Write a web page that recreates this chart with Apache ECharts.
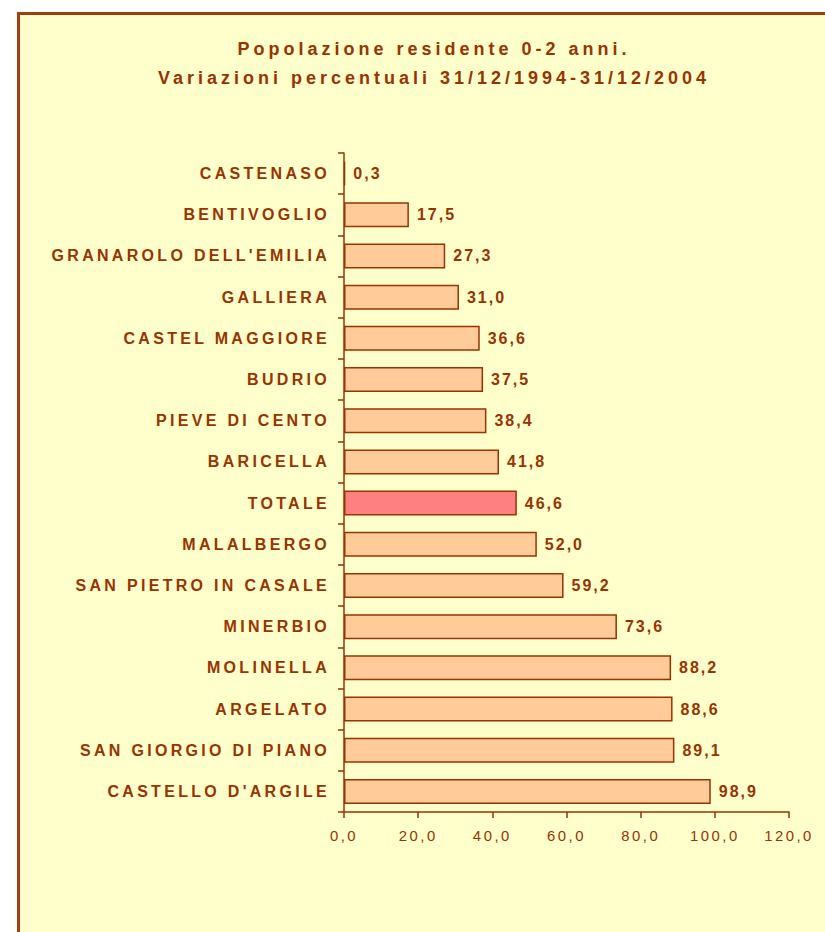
<!DOCTYPE html>
<html>
<head>
<meta charset="UTF-8">
<title>Popolazione residente 0-2 anni</title>
<script type="text/javascript" src="https://cdn.jsdelivr.net/npm/echarts@6/dist/echarts.min.js"></script>
<style>
    html, body { margin: 0; padding: 0; background: #fff; }
    /* spaziatura delle lettere come nel grafico originale */
    #main text { letter-spacing: 2px; }
    #main text[style*="18px"] { letter-spacing: 4px; }
    #main text[style*="Liberation"] { letter-spacing: 3.3px; }
    #main text[style*="14.9px"] { letter-spacing: 2.5px; }
</style>
</head>
<body>
    <div id="main" style="width: 825px;height:932px;"></div>
    <script type="text/javascript">
    var comuni = ['CASTENASO', 'BENTIVOGLIO', "GRANAROLO DELL'EMILIA", 'GALLIERA', 'CASTEL MAGGIORE',
        'BUDRIO', 'PIEVE DI CENTO', 'BARICELLA', 'TOTALE', 'MALALBERGO', 'SAN PIETRO IN CASALE',
        'MINERBIO', 'MOLINELLA', 'ARGELATO', 'SAN GIORGIO DI PIANO', "CASTELLO D'ARGILE"];
    var variazioni = [0.3, 17.5, 27.3, 31.0, 36.6, 37.5, 38.4, 41.8, 46.6, 52.0, 59.2, 73.6, 88.2, 88.6, 89.1, 98.9];
    var evidenziato = 'TOTALE';

    var marrone = '#993300';
    function virgola(v) { return Number(v).toFixed(1).replace('.', ','); }

    var dati = variazioni.map(function (v, i) {
        return {
            value: v,
            itemStyle: { color: comuni[i] === evidenziato ? '#FF8080' : '#FFCC99' }
        };
    });

    var myChart = echarts.init(document.getElementById('main'), null, { renderer: 'svg' });
    var option = {
        backgroundColor: '#FFFFCC',
        animation: false,
        graphic: [
            { type: 'rect', z: -10, shape: { x: 0, y: 0, width: 825, height: 12 }, style: { fill: '#fff' } },
            { type: 'rect', z: -10, shape: { x: 0, y: 0, width: 17, height: 932 }, style: { fill: '#fff' } },
            { type: 'polyline', z: -5, shape: { points: [[18.5, 940], [18.5, 13.5], [830, 13.5]] },
              style: { stroke: '#A0400F', lineWidth: 3, fill: null } }
        ],
        title: {
            text: 'Popolazione residente 0-2 anni.\nVariazioni percentuali 31/12/1994-31/12/2004',
            left: 429,
            top: 29,
            textAlign: 'center',
            textStyle: {
                color: marrone,
                fontFamily: 'Arial',
                fontWeight: 'bold',
                fontSize: 18,
                lineHeight: 29
            }
        },
        grid: { left: 344, right: 36, top: 153, bottom: 120, containLabel: false },
        xAxis: {
            type: 'value',
            min: 0,
            max: 120,
            interval: 20,
            axisLine: { show: true, lineStyle: { color: marrone, width: 1.5 } },
            axisTick: { show: true, length: 6, lineStyle: { color: marrone, width: 1.5 } },
            splitLine: { show: false },
            axisLabel: {
                color: marrone,
                fontFamily: 'Arial',
                fontWeight: 'normal',
                fontSize: 14.9,
                margin: 16,
                formatter: virgola
            }
        },
        yAxis: {
            type: 'category',
            data: comuni,
            inverse: true,
            axisLine: { show: true, lineStyle: { color: marrone, width: 1.5 } },
            axisTick: { show: true, length: 6, lineStyle: { color: marrone, width: 1.5 } },
            axisLabel: {
                color: marrone,
                fontFamily: 'Liberation Sans',
                fontWeight: 'bold',
                fontSize: 16,
                margin: 14
            }
        },
        series: [{
            type: 'bar',
            data: dati,
            barWidth: 25,
            itemStyle: { borderColor: marrone, borderWidth: 1.5 },
            label: {
                show: true,
                position: 'right',
                distance: 8,
                color: marrone,
                fontFamily: 'Arial',
                fontWeight: 'bold',
                fontSize: 16,
                formatter: function (p) { return virgola(p.value); }
            }
        }]
    };
    myChart.setOption(option);
    </script>
</body>
</html>
